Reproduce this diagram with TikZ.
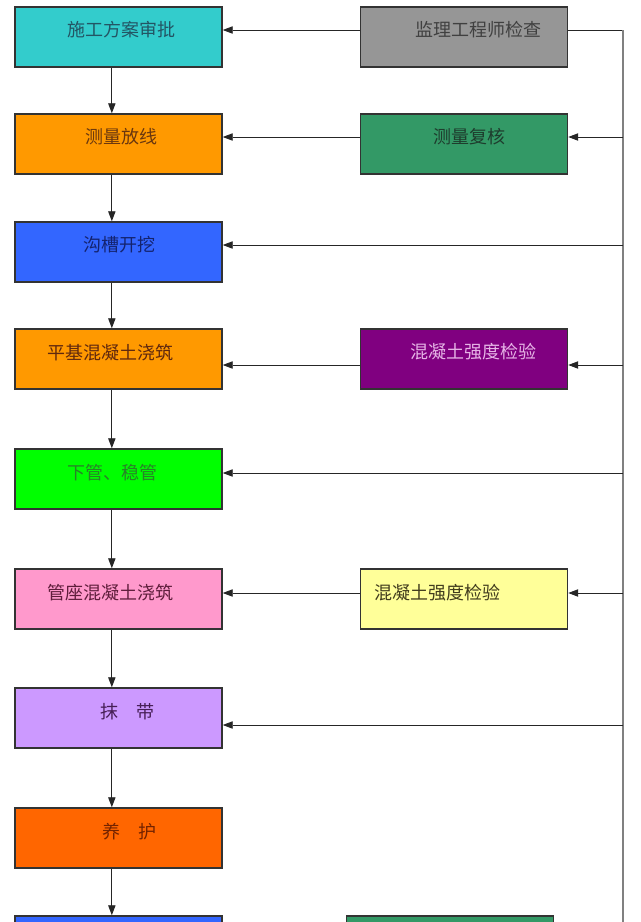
\documentclass[tikz,border=0pt]{standalone}
\usepackage{fontspec}
\setmainfont{Noto Sans CJK SC}
\usetikzlibrary{calc,arrows.meta}

\definecolor{tealbox}{RGB}{51,204,204}
\definecolor{orangebox}{RGB}{255,153,0}
\definecolor{graybox}{RGB}{150,150,150}
\definecolor{greenbox}{RGB}{51,153,102}
\definecolor{bluebox}{RGB}{51,102,255}
\definecolor{purplebox}{RGB}{128,0,128}
\definecolor{limebox}{RGB}{0,255,0}
\definecolor{pinkbox}{RGB}{255,153,204}
\definecolor{yellowbox}{RGB}{255,255,153}
\definecolor{lilacbox}{RGB}{204,153,255}
\definecolor{redbox}{RGB}{255,102,0}

\begin{document}
\begin{tikzpicture}[x=0.75pt,y=-0.75pt,
		box/.style={draw=black!80,line width=1.1pt,minimum width=155.25pt,minimum height=45pt,inner sep=0pt},
		txt/.style={font=\fontsize{13.5}{15}\selectfont,inner sep=0pt},
		line/.style={draw=black!85,line width=0.7pt},
		arr/.style={line,-{Triangle[length=7.5pt,width=5.5pt]}}]
		\def\leftx{118.5}
		\def\rightx{464}
		\def\trunkx{623}
		
		\clip (0,0) rectangle (640,922);
		
		% left column
		\node[box,fill=tealbox] (approve) at (\leftx,37) {};
		\node[box,fill=orangebox] (survey) at (\leftx,144) {};
		\node[box,fill=bluebox] (trench) at (\leftx,252) {};
		\node[box,fill=orangebox] (base) at (\leftx,359) {};
		\node[box,fill=limebox] (laypipe) at (\leftx,479) {};
		\node[box,fill=pinkbox] (cradle) at (\leftx,599) {};
		\node[box,fill=lilacbox] (band) at (\leftx,718) {};
		\node[box,fill=redbox] (cure) at (\leftx,838) {};
		\node[box,fill=bluebox] (nextstep) at (\leftx,946) {};
		
		% right column
		\node[box,fill=graybox] (check) at (\rightx,37) {};
		\node[box,fill=greenbox] (recheck) at (\rightx,144) {};
		\node[box,fill=purplebox] (testa) at (\rightx,359) {};
		\node[box,fill=yellowbox] (testb) at (\rightx,599) {};
		\node[box,fill=greenbox] (nextcheck) at (450,946) {};
		
		% texts
		\node[txt,text={rgb,255:red,35;green,85;blue,100}] (approve-t) at ($(approve)+(2.5,-7)$) {施工方案审批};
		\node[txt,text={rgb,255:red,105;green,55;blue,15}] (survey-t) at ($(survey)+(2.5,-7)$) {测量放线};
		\node[txt,text={rgb,255:red,20;green,35;blue,110}] (trench-t) at ($(trench)+(0.5,-7)$) {沟槽开挖};
		\node[txt,text={rgb,255:red,95;green,40;blue,15}] (base-t) at ($(base)+(-8.5,-6)$) {平基混凝土浇筑};
		\node[txt,text={rgb,255:red,40;green,130;blue,40}] (laypipe-t) at ($(laypipe)+(-6.5,-6)$) {下管、稳管};
		\node[txt,text={rgb,255:red,95;green,30;blue,60}] (cradle-t) at ($(cradle)+(-8.5,-6)$) {管座混凝土浇筑};
		\node[txt,text={rgb,255:red,70;green,30;blue,85}] (band-t) at ($(band)+(8.5,-6)$) {抹\quad 带};
		\node[txt,text={rgb,255:red,115;green,35;blue,0}] (cure-t) at ($(cure)+(10.5,-6)$) {养\quad 护};
		\node[txt,text=black!75] (check-t) at ($(check)+(14,-7)$) {监理工程师检查};
		\node[txt,text={rgb,255:red,30;green,60;blue,45}] (recheck-t) at ($(recheck)+(5,-7)$) {测量复核};
		\node[txt,text={rgb,255:red,230;green,180;blue,230}] (testa-t) at ($(testa)+(9,-7)$) {混凝土强度检验};
		\node[txt,text={rgb,255:red,65;green,60;blue,30}] (testb-t) at ($(testb)+(-27,-6)$) {混凝土强度检验};
		
		% main flow
		\draw[arr] ([xshift=-5pt]approve.south) -- ([xshift=-5pt]survey.north);
		\draw[arr] ([xshift=-5pt]survey.south) -- ([xshift=-5pt]trench.north);
		\draw[arr] ([xshift=-5pt]trench.south) -- ([xshift=-5pt]base.north);
		\draw[arr] ([xshift=-5pt]base.south) -- ([xshift=-5pt]laypipe.north);
		\draw[arr] ([xshift=-5pt]laypipe.south) -- ([xshift=-5pt]cradle.north);
		\draw[arr] ([xshift=-5pt]cradle.south) -- ([xshift=-5pt]band.north);
		\draw[arr] ([xshift=-5pt]band.south) -- ([xshift=-5pt]cure.north);
		\draw[arr] ([xshift=-5pt]cure.south) -- ([xshift=-5pt]nextstep.north);
		
		% checks into the flow
		\draw[arr] ($(check.west)+(0,-7)$) -- ($(approve.east)+(0,-7)$);
		\draw[arr] ($(recheck.west)+(0,-7)$) -- ($(survey.east)+(0,-7)$);
		\draw[arr] ($(testa.west)+(0,6)$) -- ($(base.east)+(0,6)$);
		\draw[arr] ($(testb.west)+(0,-6)$) -- ($(cradle.east)+(0,-6)$);
		
		% feedback trunk
		\coordinate (trunk) at (\trunkx,30);
		\coordinate (trunkend) at (\trunkx,930);
		\coordinate (in-recheck) at ($(recheck.east)+(0,-7)$);
		\coordinate (in-trench) at ($(trench.east)+(0,-7)$);
		\coordinate (in-testa) at ($(testa.east)+(0,6)$);
		\coordinate (in-laypipe) at ($(laypipe.east)+(0,-6)$);
		\coordinate (in-testb) at ($(testb.east)+(0,-6)$);
		\coordinate (in-band) at ($(band.east)+(0,7)$);
		
		\draw[line] ($(check.east)+(0,-7)$) -- (trunk);
		\draw[line,draw=black!50,line width=1pt] (trunk) -- (trunkend);
		\draw[arr] (trunk |- in-recheck) -- (in-recheck);
		\draw[arr] (trunk |- in-trench) -- (in-trench);
		\draw[arr] (trunk |- in-testa) -- (in-testa);
		\draw[arr] (trunk |- in-laypipe) -- (in-laypipe);
		\draw[arr] (trunk |- in-testb) -- (in-testb);
		\draw[arr] (trunk |- in-band) -- (in-band);
	\end{tikzpicture}
\end{document}
